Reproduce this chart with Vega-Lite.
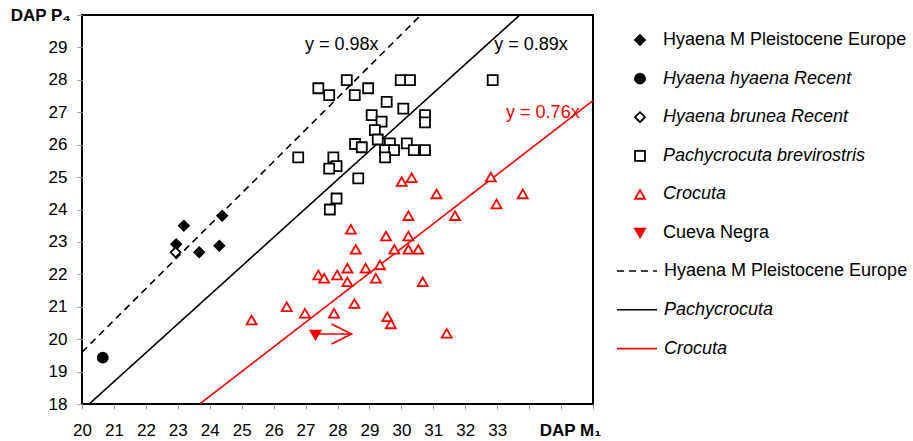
{
  "$schema": "https://vega.github.io/schema/vega-lite/v6.json",
  "width": 511,
  "height": 389,
  "autosize": {"type": "none"},
  "padding": {"left": 82, "top": 15, "right": 320, "bottom": 37},
  "background": "white",
  "config": {
    "view": {"stroke": "#000", "strokeWidth": 2},
    "font": "Liberation Sans",
    "axis": {
      "domain": false,
      "grid": false,
      "tickColor": "#9a9a9a",
      "tickSize": 5,
      "labelFont": "Liberation Sans",
      "labelFontSize": 17,
      "labelColor": "#000",
      "titleFont": "Liberation Sans",
      "titleFontSize": 17,
      "titleFontWeight": "bold",
      "titleColor": "#000",
      "labelFlush": false,
      "labelOverlap": false
    },
    "legend": {
      "labelFont": "Liberation Sans",
      "labelFontSize": 18,
      "labelColor": "#000",
      "labelLimit": 400,
      "padding": 0
    }
  },
  "encoding": {
    "x": {
      "field": "m1",
      "type": "quantitative",
      "scale": {"domain": [20, 36], "nice": false, "zero": false},
      "axis": {
        "values": [20, 21, 22, 23, 24, 25, 26, 27, 28, 29, 30, 31, 32, 33, 34, 35, 36],
        "labelExpr": "datum.value > 33 ? '' : datum.label",
        "labelPadding": 13,
        "title": "DAP M₁",
        "titleX": 488,
        "titleY": 26,
        "titleAlign": "center",
        "titleBaseline": "middle"
      }
    },
    "y": {
      "field": "p4",
      "type": "quantitative",
      "scale": {"domain": [18, 30], "nice": false, "zero": false},
      "axis": {
        "values": [18, 19, 20, 21, 22, 23, 24, 25, 26, 27, 28, 29, 30],
        "labelExpr": "datum.value >= 30 ? '' : datum.label",
        "labelPadding": 10,
        "title": "DAP P₄",
        "titleAngle": 0,
        "titleX": -12,
        "titleY": 0,
        "titleAlign": "right",
        "titleBaseline": "middle"
      }
    }
  },
  "layer": [
    {
      "data": {
        "values": [
          {"fit": "Hyaena M Pleistocene Europe", "m1": 20, "p4": 19.6},
          {"fit": "Hyaena M Pleistocene Europe", "m1": 30.612, "p4": 30},
          {"fit": "Pachycrocuta", "m1": 20.225, "p4": 18},
          {"fit": "Pachycrocuta", "m1": 33.708, "p4": 30},
          {"fit": "Crocuta", "m1": 23.684, "p4": 18},
          {"fit": "Crocuta", "m1": 36, "p4": 27.36}
        ]
      },
      "mark": {"type": "line", "strokeWidth": 1.6, "clip": true},
      "encoding": {
        "color": {
          "field": "fit",
          "type": "nominal",
          "scale": {"domain": ["Hyaena M Pleistocene Europe", "Pachycrocuta", "Crocuta"], "range": ["#000000", "#000000", "#ff0000"]},
          "legend": {
            "title": null,
            "orient": "none",
            "legendX": 546,
            "legendY": 247,
            "symbolType": "M-4,0H4",
            "symbolSize": 100,
            "symbolStrokeWidth": 1.6,
            "labelOffset": 18,
            "rowPadding": 20.8,
            "labelFontStyle": {"expr": "datum.label == 'Hyaena M Pleistocene Europe' ? 'normal' : 'italic'"}
          }
        },
        "strokeDash": {
          "field": "fit",
          "type": "nominal",
          "scale": {"domain": ["Hyaena M Pleistocene Europe", "Pachycrocuta", "Crocuta"], "range": [[7, 5], [1, 0], [1, 0]]},
          "legend": {
            "title": null,
            "orient": "none",
            "legendX": 546,
            "legendY": 247,
            "symbolType": "M-4,0H4",
            "symbolSize": 100,
            "symbolStrokeWidth": 1.6,
            "labelOffset": 18,
            "rowPadding": 20.8,
            "labelFontStyle": {"expr": "datum.label == 'Hyaena M Pleistocene Europe' ? 'normal' : 'italic'"}
          }
        }
      }
    },
    {
      "data": {
        "values": [
          {"fit": "Hyaena M Pleistocene Europe", "label": "y = 0.98x", "m1": 28.13, "p4": 29.07},
          {"fit": "Pachycrocuta", "label": "y = 0.89x", "m1": 34.06, "p4": 29.07},
          {"fit": "Crocuta", "label": "y = 0.76x", "m1": 34.43, "p4": 26.98}
        ]
      },
      "mark": {"type": "text", "fontSize": 18, "align": "center", "baseline": "middle"},
      "encoding": {
        "text": {"field": "label"},
        "color": {"field": "fit", "type": "nominal", "legend": null}
      }
    },
    {
      "data": {"values": [{"m1": 27.3, "m1e": 28.44, "p4": 20.16}]},
      "mark": {"type": "rule", "color": "#ff0000", "strokeWidth": 1.6},
      "encoding": {"x2": {"field": "m1e"}}
    },
    {
      "data": {"values": [{"m1": 28.44, "p4": 20.16}]},
      "mark": {"type": "point", "shape": "M-2,-1L0,0L-2,1", "size": 400, "filled": false, "color": "#ff0000", "strokeWidth": 1.6, "opacity": 1}
    },
    {
      "data": {
        "values": [
          {"group": "Hyaena M Pleistocene Europe", "m1": 22.95, "p4": 22.93},
          {"group": "Hyaena M Pleistocene Europe", "m1": 23.19, "p4": 23.5},
          {"group": "Hyaena M Pleistocene Europe", "m1": 23.67, "p4": 22.68},
          {"group": "Hyaena M Pleistocene Europe", "m1": 24.3, "p4": 22.88},
          {"group": "Hyaena M Pleistocene Europe", "m1": 24.39, "p4": 23.81},
          {"group": "Hyaena hyaena Recent", "m1": 20.65, "p4": 19.43},
          {"group": "Hyaena brunea Recent", "m1": 22.93, "p4": 22.68},
          {"group": "Pachycrocuta brevirostris", "m1": 27.4, "p4": 27.74},
          {"group": "Pachycrocuta brevirostris", "m1": 28.29, "p4": 27.99},
          {"group": "Pachycrocuta brevirostris", "m1": 27.74, "p4": 27.53},
          {"group": "Pachycrocuta brevirostris", "m1": 28.54, "p4": 27.53},
          {"group": "Pachycrocuta brevirostris", "m1": 28.96, "p4": 27.74},
          {"group": "Pachycrocuta brevirostris", "m1": 29.98, "p4": 27.99},
          {"group": "Pachycrocuta brevirostris", "m1": 30.27, "p4": 27.99},
          {"group": "Pachycrocuta brevirostris", "m1": 32.86, "p4": 27.99},
          {"group": "Pachycrocuta brevirostris", "m1": 29.54, "p4": 27.32},
          {"group": "Pachycrocuta brevirostris", "m1": 30.06, "p4": 27.11},
          {"group": "Pachycrocuta brevirostris", "m1": 29.07, "p4": 26.91},
          {"group": "Pachycrocuta brevirostris", "m1": 29.38, "p4": 26.71},
          {"group": "Pachycrocuta brevirostris", "m1": 30.74, "p4": 26.91},
          {"group": "Pachycrocuta brevirostris", "m1": 30.74, "p4": 26.69},
          {"group": "Pachycrocuta brevirostris", "m1": 29.17, "p4": 26.45},
          {"group": "Pachycrocuta brevirostris", "m1": 29.26, "p4": 26.16},
          {"group": "Pachycrocuta brevirostris", "m1": 28.55, "p4": 26.02},
          {"group": "Pachycrocuta brevirostris", "m1": 28.76, "p4": 25.92},
          {"group": "Pachycrocuta brevirostris", "m1": 29.64, "p4": 26.04},
          {"group": "Pachycrocuta brevirostris", "m1": 29.49, "p4": 25.83},
          {"group": "Pachycrocuta brevirostris", "m1": 29.77, "p4": 25.83},
          {"group": "Pachycrocuta brevirostris", "m1": 30.17, "p4": 26.04},
          {"group": "Pachycrocuta brevirostris", "m1": 30.39, "p4": 25.83},
          {"group": "Pachycrocuta brevirostris", "m1": 30.74, "p4": 25.83},
          {"group": "Pachycrocuta brevirostris", "m1": 29.49, "p4": 25.61},
          {"group": "Pachycrocuta brevirostris", "m1": 26.77, "p4": 25.61},
          {"group": "Pachycrocuta brevirostris", "m1": 27.87, "p4": 25.61},
          {"group": "Pachycrocuta brevirostris", "m1": 27.97, "p4": 25.34},
          {"group": "Pachycrocuta brevirostris", "m1": 27.74, "p4": 25.26},
          {"group": "Pachycrocuta brevirostris", "m1": 28.65, "p4": 24.96},
          {"group": "Pachycrocuta brevirostris", "m1": 27.97, "p4": 24.34},
          {"group": "Pachycrocuta brevirostris", "m1": 27.76, "p4": 24.0},
          {"group": "Crocuta", "m1": 30.01, "p4": 24.86},
          {"group": "Crocuta", "m1": 30.32, "p4": 24.98},
          {"group": "Crocuta", "m1": 32.8, "p4": 25.0},
          {"group": "Crocuta", "m1": 31.1, "p4": 24.48},
          {"group": "Crocuta", "m1": 33.8, "p4": 24.48},
          {"group": "Crocuta", "m1": 32.98, "p4": 24.17},
          {"group": "Crocuta", "m1": 30.22, "p4": 23.81},
          {"group": "Crocuta", "m1": 31.68, "p4": 23.81},
          {"group": "Crocuta", "m1": 28.42, "p4": 23.39},
          {"group": "Crocuta", "m1": 29.52, "p4": 23.18},
          {"group": "Crocuta", "m1": 30.22, "p4": 23.18},
          {"group": "Crocuta", "m1": 28.57, "p4": 22.77},
          {"group": "Crocuta", "m1": 29.78, "p4": 22.77},
          {"group": "Crocuta", "m1": 30.22, "p4": 22.77},
          {"group": "Crocuta", "m1": 30.53, "p4": 22.77},
          {"group": "Crocuta", "m1": 28.31, "p4": 22.19},
          {"group": "Crocuta", "m1": 28.88, "p4": 22.19},
          {"group": "Crocuta", "m1": 29.33, "p4": 22.29},
          {"group": "Crocuta", "m1": 27.4, "p4": 21.98},
          {"group": "Crocuta", "m1": 27.58, "p4": 21.88},
          {"group": "Crocuta", "m1": 27.99, "p4": 21.98},
          {"group": "Crocuta", "m1": 28.31, "p4": 21.77},
          {"group": "Crocuta", "m1": 29.2, "p4": 21.88},
          {"group": "Crocuta", "m1": 30.67, "p4": 21.77},
          {"group": "Crocuta", "m1": 26.41, "p4": 21.0},
          {"group": "Crocuta", "m1": 26.98, "p4": 20.8},
          {"group": "Crocuta", "m1": 27.89, "p4": 20.8},
          {"group": "Crocuta", "m1": 28.53, "p4": 21.1},
          {"group": "Crocuta", "m1": 29.56, "p4": 20.69},
          {"group": "Crocuta", "m1": 29.67, "p4": 20.47},
          {"group": "Crocuta", "m1": 31.42, "p4": 20.18},
          {"group": "Crocuta", "m1": 25.31, "p4": 20.59},
          {"group": "Cueva Negra", "m1": 27.31, "p4": 20.13}
        ]
      },
      "mark": {"type": "point", "size": 100, "strokeWidth": 1.8, "opacity": 1},
      "encoding": {
        "shape": {
          "field": "group",
          "type": "nominal",
          "scale": {
            "domain": ["Hyaena M Pleistocene Europe", "Hyaena hyaena Recent", "Hyaena brunea Recent", "Pachycrocuta brevirostris", "Crocuta", "Cueva Negra"],
            "range": ["diamond", "circle", "diamond", "square", "triangle-up", "triangle-down"]
          },
          "legend": {
            "title": null,
            "orient": "none",
            "legendX": 549,
            "legendY": 16,
            "symbolSize": 100,
            "symbolStrokeWidth": 1.8,
            "labelOffset": 14,
            "rowPadding": 20.6,
            "labelFontStyle": {"expr": "datum.label == 'Hyaena M Pleistocene Europe' || datum.label == 'Cueva Negra' ? 'normal' : 'italic'"}
          }
        },
        "fill": {
          "field": "group",
          "type": "nominal",
          "scale": {
            "domain": ["Hyaena M Pleistocene Europe", "Hyaena hyaena Recent", "Hyaena brunea Recent", "Pachycrocuta brevirostris", "Crocuta", "Cueva Negra"],
            "range": ["#000000", "#000000", "#ffffff", "#ffffff", "#ffffff", "#ff0000"]
          },
          "legend": {
            "title": null,
            "orient": "none",
            "legendX": 549,
            "legendY": 16,
            "symbolSize": 100,
            "symbolStrokeWidth": 1.8,
            "labelOffset": 14,
            "rowPadding": 20.6,
            "labelFontStyle": {"expr": "datum.label == 'Hyaena M Pleistocene Europe' || datum.label == 'Cueva Negra' ? 'normal' : 'italic'"}
          }
        },
        "stroke": {
          "field": "group",
          "type": "nominal",
          "scale": {
            "domain": ["Hyaena M Pleistocene Europe", "Hyaena hyaena Recent", "Hyaena brunea Recent", "Pachycrocuta brevirostris", "Crocuta", "Cueva Negra"],
            "range": ["#000000", "#000000", "#000000", "#000000", "#ff0000", "#ff0000"]
          },
          "legend": {
            "title": null,
            "orient": "none",
            "legendX": 549,
            "legendY": 16,
            "symbolSize": 100,
            "symbolStrokeWidth": 1.8,
            "labelOffset": 14,
            "rowPadding": 20.6,
            "labelFontStyle": {"expr": "datum.label == 'Hyaena M Pleistocene Europe' || datum.label == 'Cueva Negra' ? 'normal' : 'italic'"}
          }
        }
      }
    }
  ]
}
